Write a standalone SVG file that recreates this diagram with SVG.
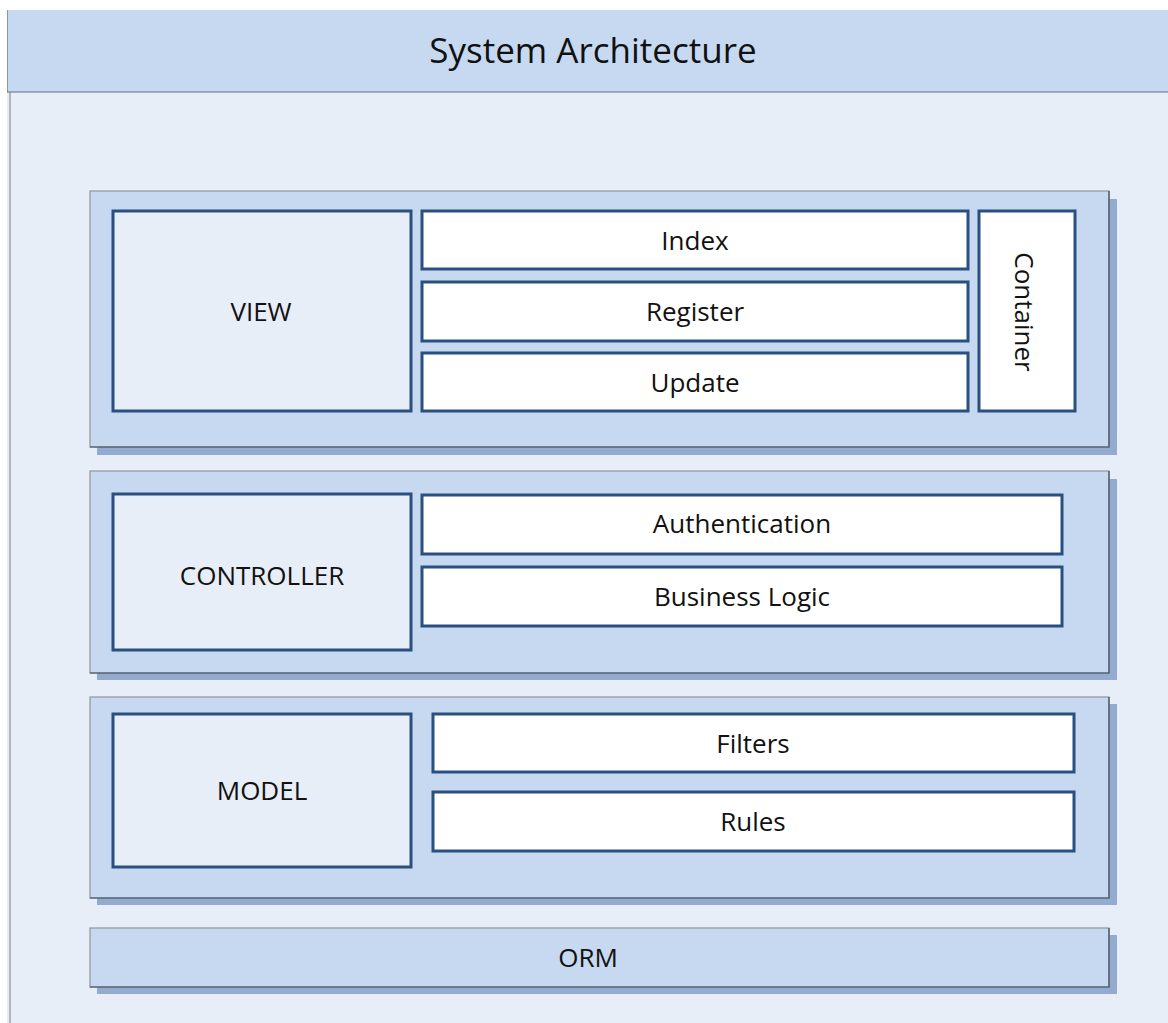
<svg xmlns="http://www.w3.org/2000/svg" width="1168" height="1023" viewBox="0 0 1168 1023">
  <style>
    .bg { fill: #e8eef8; }
    .panel { fill: #c6d9f1; stroke: #8f959c; stroke-width: 1.2; }
    .edge { stroke: #3f4d63; stroke-width: 1.2; fill: none; }
    .shadow { fill: #93abcf; }
    .box { fill: #ffffff; stroke: #29507f; stroke-width: 3; }
    .box-main { fill: #e8eef8; stroke: #29507f; stroke-width: 3; }
    .label { font-family: "Open Sans", "Liberation Sans", sans-serif; font-size: 26px; fill: #111111; text-anchor: middle; dominant-baseline: central; }
    .title { font-family: "Open Sans", "Liberation Sans", sans-serif; font-size: 35px; fill: #111111; text-anchor: middle; dominant-baseline: central; }
  </style>

  <!-- canvas -->
  <rect class="bg" x="0" y="0" width="1168" height="1023"/>
  <rect x="0" y="0" width="1168" height="10" fill="#ffffff"/>
  <rect x="0" y="0" width="7" height="1023" fill="#ffffff"/>
  <line x1="10" y1="92" x2="10" y2="1023" stroke="#a3a6aa" stroke-width="1.5"/>

  <!-- header -->
  <g id="header">
    <rect x="7" y="10" width="1161" height="82" fill="#c6d9f1"/>
    <line x1="7.5" y1="10" x2="7.5" y2="92" stroke="#8f959c" stroke-width="1"/>
    <line x1="7" y1="92" x2="1168" y2="92" stroke="#5d708c" stroke-width="1.2"/>
    <text class="title" x="593" y="49">System Architecture</text>
  </g>

  <!-- VIEW layer -->
  <g id="view-layer">
    <rect class="shadow" x="97" y="199" width="1020" height="256"/>
    <rect class="panel" x="90" y="191" width="1019" height="256"/>
    <polyline class="edge" points="90,447 1109,447 1109,191"/>
    <g id="view">
      <rect class="box-main" x="113" y="211" width="298" height="200"/>
      <text class="label" x="261" y="311">VIEW</text>
    </g>
    <g id="index">
      <rect class="box" x="422" y="211" width="546" height="58"/>
      <text class="label" x="695" y="240">Index</text>
    </g>
    <g id="register">
      <rect class="box" x="422" y="282" width="546" height="59"/>
      <text class="label" x="695" y="311">Register</text>
    </g>
    <g id="update">
      <rect class="box" x="422" y="353" width="546" height="58"/>
      <text class="label" x="695" y="382">Update</text>
    </g>
    <g id="container">
      <rect class="box" x="979" y="211" width="96" height="200"/>
      <text class="label" x="1025" y="312" transform="rotate(90 1025 312)">Container</text>
    </g>
  </g>

  <!-- CONTROLLER layer -->
  <g id="controller-layer">
    <rect class="shadow" x="97" y="479" width="1020" height="201"/>
    <rect class="panel" x="90" y="471" width="1019" height="202"/>
    <polyline class="edge" points="90,673 1109,673 1109,471"/>
    <g id="controller">
      <rect class="box-main" x="113" y="494" width="298" height="156"/>
      <text class="label" x="262" y="575">CONTROLLER</text>
    </g>
    <g id="authentication">
      <rect class="box" x="422" y="495" width="640" height="59"/>
      <text class="label" x="742" y="523">Authentication</text>
    </g>
    <g id="business-logic">
      <rect class="box" x="422" y="567" width="640" height="59"/>
      <text class="label" x="742" y="596">Business Logic</text>
    </g>
  </g>

  <!-- MODEL layer -->
  <g id="model-layer">
    <rect class="shadow" x="97" y="704" width="1020" height="201"/>
    <rect class="panel" x="90" y="697" width="1019" height="201"/>
    <polyline class="edge" points="90,898 1109,898 1109,697"/>
    <g id="model">
      <rect class="box-main" x="113" y="714" width="298" height="153"/>
      <text class="label" x="262" y="790">MODEL</text>
    </g>
    <g id="filters">
      <rect class="box" x="433" y="714" width="641" height="58"/>
      <text class="label" x="753" y="743">Filters</text>
    </g>
    <g id="rules">
      <rect class="box" x="433" y="792" width="641" height="59"/>
      <text class="label" x="753" y="821">Rules</text>
    </g>
  </g>

  <!-- ORM layer -->
  <g id="orm">
    <rect class="shadow" x="97" y="935" width="1020" height="59"/>
    <rect class="panel" x="90" y="928" width="1019" height="59"/>
    <polyline class="edge" points="90,987 1109,987 1109,928"/>
    <text class="label" x="588" y="957">ORM</text>
  </g>

  <!-- connectors: none drawn, layers are stacked -->
  <g id="connectors"/>
</svg>
